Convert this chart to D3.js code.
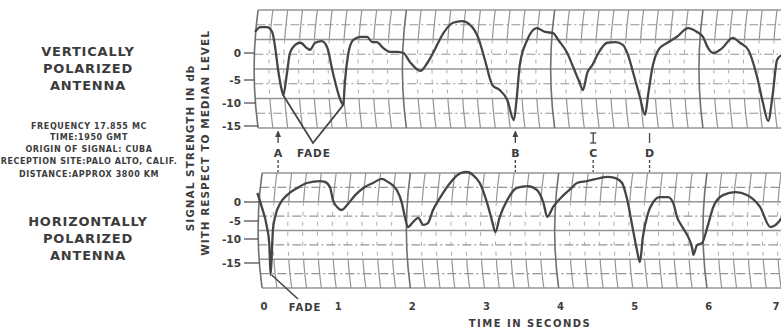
<!DOCTYPE html>
<html><head><meta charset="utf-8">
<script src="https://cdn.jsdelivr.net/npm/d3@7"></script>
<style>
body{margin:0;background:#fff;}
svg{display:block;}
text{font-family:"DejaVu Sans",sans-serif;font-weight:bold;fill:#3c3c3c;}
</style></head><body>
<svg id="c" width="781" height="331"></svg>
<script>
// ---------- data ----------
const timeTicks = [0,1,2,3,4,5,6,7];
const dbTicks = [0,-5,-10,-15];
// vertically polarized antenna: [time s, dB]
const verticalTime = [-0.12,-0.05,0.04,0.11,0.15,0.19,0.24,0.26,0.31,0.35,0.42,0.49,0.58,0.62,0.69,0.78,0.85,0.93,1.03,1.07,1.09,1.13,1.20,1.30,1.39,1.46,1.52,1.61,1.70,1.79,1.88,1.97,2.11,2.20,2.28,2.42,2.55,2.67,2.78,2.89,2.98,3.08,3.18,3.28,3.37,3.41,3.45,3.55,3.68,3.79,3.90,3.97,4.09,4.17,4.26,4.30,4.36,4.43,4.51,4.63,4.74,4.84,4.91,4.98,5.07,5.14,5.18,5.24,5.32,5.44,5.57,5.72,5.84,5.92,5.99,6.06,6.18,6.32,6.42,6.53,6.65,6.73,6.80,6.86,6.92,6.98];
const verticalDb = [3.9,4.8,4.8,3.9,1.1,-3.1,-7.2,-8.3,-3.7,0,1.5,1.9,0.9,0.6,1.9,2.2,1.1,-3.7,-9.3,-10.4,-5.7,-0.7,2.4,3.0,3.0,2.0,2.0,0.9,0.2,0.2,0,-1.7,-3.3,-1.9,0,3.7,5.6,5.9,5.2,2.8,-1.3,-6.1,-7.2,-9.3,-13.7,-8.7,-2.2,2.4,4.6,3.9,3.7,2.4,0,-2.6,-5.7,-7.2,-3.7,-2.2,0,1.9,2.0,1.5,-0.4,-3.7,-8.7,-12.6,-8.3,-2.6,0.6,1.9,3.0,4.6,3.9,3.0,0.9,0,0.9,2.8,1.9,0.6,-4.4,-10.0,-13.9,-8.3,-1.3,-0.4];
// horizontally polarized antenna: [time s, dB]
const horizontalTime = [-0.09,-0.03,0.04,0.07,0.08,0.09,0.11,0.12,0.15,0.22,0.31,0.45,0.58,0.76,0.82,0.89,0.93,1.00,1.05,1.12,1.23,1.34,1.47,1.59,1.67,1.79,1.86,1.90,1.94,2.01,2.08,2.15,2.21,2.28,2.38,2.51,2.65,2.74,2.82,2.91,3.01,3.08,3.12,3.18,3.28,3.41,3.56,3.68,3.77,3.82,3.90,4.04,4.16,4.22,4.36,4.53,4.63,4.74,4.83,4.90,4.97,5.03,5.07,5.11,5.18,5.25,5.34,5.45,5.52,5.57,5.65,5.72,5.78,5.79,5.84,5.91,5.98,6.06,6.19,6.36,6.52,6.69,6.83,6.94,6.98];
const horizontalDb = [2.4,-1.3,-6.7,-10.8,-14.4,-17.5,-11.3,-7.5,-3.9,-0.3,1.8,3.7,5.0,5.5,5.3,3.9,0.5,-1.6,-2.1,-0.8,1.8,3.7,5.0,6.1,5.3,3.2,-0.3,-3.9,-6.7,-5.3,-4.2,-6.1,-5.6,-2.1,1.3,5.0,7.6,7.9,7.1,5.0,-0.3,-5.3,-8.1,-3.9,0.5,3.7,4.2,3.2,-0.3,-3.9,-1.3,1.8,3.9,5.0,5.5,6.3,6.6,6.3,5.0,0.5,-6.7,-12.3,-14.8,-9.4,-2.9,0,1.3,1.3,-0.3,-3.9,-6.9,-9.4,-12.3,-13.3,-11.3,-10.8,-6.7,-1.3,1.8,2.6,1.8,-1.3,-6.7,-5.3,-4.2];
const markerLabels = ["A","B","C","D"];
const markerTimes = [0.19,3.39,4.44,5.20];
const fadeTopTimes = [0.26,1.07];   // the two fades marked "FADE" on the upper record
const fadeBottomTime = 0.09;        // fade marked on the lower record
const leftTitles = [["VERTICALLY","POLARIZED","ANTENNA"],["HORIZONTALLY","POLARIZED","ANTENNA"]];
const infoLines = ["FREQUENCY 17.855 MC","TIME:1950 GMT","ORIGIN OF SIGNAL: CUBA","RECEPTION SITE:PALO ALTO, CALIF.","DISTANCE:APPROX 3800 KM"];
const yTitle = ["SIGNAL STRENGTH IN db","WITH RESPECT TO MEDIAN LEVEL"];
const xTitle = "TIME IN SECONDS";

// ---------- drawing ----------
const svg = d3.select("#c");
const W = 781;
const x = d3.scaleLinear().domain([0,7]).range([264,783]);
const yTop = d3.scaleLinear().domain([-15,-10,-5,0]).range([126,103,80,53]);
const yBot = d3.scaleLinear().domain([-15,-10,-5,0]).range([263,239,221,202]);

const GRID = "#959595", INK = "#454545";

function panel(y0, y1, edgeShift, yScale){
  const g = svg.append("g");
  const h = y1 - y0, ym = (y0 + y1) / 2;
  const bow = y => edgeShift + 4 * Math.pow((y - ym) / (h / 2), 2);
  const xAt = (t, y) => x(t) + bow(y);
  const leftX = y => xAt(-0.1, y);
  const rows = 8, rh = h / rows;
  // horizontal lines
  d3.range(rows + 1).forEach(i => {
    const yy = y0 + i * rh;
    g.append("line").attr("x1", leftX(yy)).attr("x2", W + 5).attr("y1", yy).attr("y2", yy)
      .attr("stroke", GRID).attr("stroke-width", i % 2 === 0 ? 1.4 : 1.1)
      .attr("stroke-dasharray", i % 2 === 0 ? null : "9,3,2,3");
  });
  // vertical lines
  const line = d3.line().x(d => d[0]).y(d => d[1]);
  const ts = d3.range(-0.1, 7.5, 0.2);
  ts.forEach((t, k) => {
    const seam = k % 10 === 0;
    const seg = (ya, yb) => d3.range(ya, yb + 0.01, (yb - ya) / 6).map(yy => [xAt(t, yy), yy]);
    if (seam) {
      g.append("path").attr("d", line(seg(y0, y1))).attr("fill", "none")
        .attr("stroke", "#707070").attr("stroke-width", 1.6);
    } else {
      g.append("path").attr("d", line(seg(y0, y0 + 2 * rh))).attr("fill", "none")
        .attr("stroke", GRID).attr("stroke-width", 1.2);
      g.append("path").attr("d", line(seg(y1 - 2 * rh, y1))).attr("fill", "none")
        .attr("stroke", GRID).attr("stroke-width", 1.2);
      g.append("path").attr("d", line(seg(y0 + 2 * rh, y1 - 2 * rh))).attr("fill", "none")
        .attr("stroke", "#adadad").attr("stroke-width", 1).attr("stroke-dasharray", "4,6");
    }
  });
  // y ticks
  dbTicks.forEach(v => {
    const yy = yScale(v);
    g.append("line").attr("x1", 244).attr("x2", leftX(yy)).attr("y1", yy).attr("y2", yy)
      .attr("stroke", INK).attr("stroke-width", 1.2);
    g.append("text").attr("x", 241).attr("y", yy + 4).attr("text-anchor", "end")
      .attr("font-size", 10.5).text(v === 0 ? "0" : "-" + Math.abs(v));
  });
  return g;
}

panel(10, 128, -2.5, yTop);
panel(173, 288, 1.5, yBot);

const curve = (ts, vs, ys) => d3.line().x((d, i) => x(ts[i])).y(d => ys(d)).curve(d3.curveMonotoneX)(vs);
svg.append("path").attr("d", curve(verticalTime, verticalDb, yTop)).attr("fill", "none")
  .attr("stroke", INK).attr("stroke-width", 2.3).attr("stroke-linejoin", "round");
svg.append("path").attr("d", curve(horizontalTime, horizontalDb, yBot)).attr("fill", "none")
  .attr("stroke", INK).attr("stroke-width", 2.3).attr("stroke-linejoin", "round");

// FADE annotations
const vIdx = t => verticalTime.indexOf(t);
const apex = [313, 143];
svg.append("path").attr("d", d3.line()([
  [x(fadeTopTimes[0]), yTop(verticalDb[vIdx(fadeTopTimes[0])])], apex,
  [x(fadeTopTimes[1]), yTop(verticalDb[vIdx(fadeTopTimes[1])])]]))
  .attr("fill", "none").attr("stroke", INK).attr("stroke-width", 1.8);
svg.append("text").attr("x", 314).attr("y", 157).attr("text-anchor", "middle")
  .attr("font-size", 10.5).attr("letter-spacing", 1).text("FADE");
const hIdx = horizontalTime.indexOf(fadeBottomTime);
svg.append("path").attr("d", d3.line()([[x(fadeBottomTime) + 1, yBot(horizontalDb[hIdx])], [298, 299]]))
  .attr("fill", "none").attr("stroke", INK).attr("stroke-width", 1.6);
svg.append("text").attr("x", 305).attr("y", 311).attr("text-anchor", "middle")
  .attr("font-size", 10).attr("letter-spacing", 1).text("FADE");

// event markers
markerLabels.forEach((lab, i) => {
  const xx = x(markerTimes[i]);
  svg.append("line").attr("x1", xx).attr("x2", xx).attr("y1", 133).attr("y2", 143)
    .attr("stroke", INK).attr("stroke-width", 1.3);
  if (lab === "A" || lab === "B") {
    svg.append("path").attr("d", `M${xx-2.5},${137} L${xx},${131} L${xx+2.5},${137}`)
      .attr("fill", INK).attr("stroke", INK).attr("stroke-width", 0.8);
  } else if (lab === "C") {
    svg.append("line").attr("x1", xx - 3).attr("x2", xx + 3).attr("y1", 133).attr("y2", 133)
      .attr("stroke", INK).attr("stroke-width", 1.3);
    svg.append("line").attr("x1", xx - 3).attr("x2", xx + 3).attr("y1", 143).attr("y2", 143)
      .attr("stroke", INK).attr("stroke-width", 1.3);
  }
  svg.append("text").attr("x", xx).attr("y", 157).attr("text-anchor", "middle")
    .attr("font-size", 11).text(lab);
  svg.append("line").attr("x1", xx).attr("x2", xx).attr("y1", 160).attr("y2", 172)
    .attr("stroke", INK).attr("stroke-width", 1.3).attr("stroke-dasharray", "3,2");
});

// x axis labels
timeTicks.forEach(t => {
  svg.append("text").attr("x", Math.min(x(t), 776)).attr("y", 310).attr("text-anchor", "middle")
    .attr("font-size", 10).text(t);
});
svg.append("text").attr("x", 530).attr("y", 327).attr("text-anchor", "middle")
  .attr("font-size", 10).attr("letter-spacing", 1.5).text(xTitle);

// y title
yTitle.forEach((s, i) => {
  svg.append("text").attr("transform", `translate(${194 + i * 15},${i === 0 ? 148 : 143}) rotate(-90)`)
    .attr("text-anchor", "middle").attr("font-size", 10.5).attr("letter-spacing", 1).text(s);
});

// left titles
const titleY = [[52, 69, 86], [222, 239, 256]];
leftTitles.forEach((lines, k) => {
  lines.forEach((s, j) => {
    svg.append("text").attr("x", 88).attr("y", titleY[k][j] + 4).attr("text-anchor", "middle")
      .attr("font-size", 13).attr("letter-spacing", 0.8).text(s);
  });
});
const infoY = [126, 137, 149, 161, 174];
infoLines.forEach((s, j) => {
  svg.append("text").attr("x", 89).attr("y", infoY[j] + 3).attr("text-anchor", "middle")
    .attr("font-size", 8).attr("letter-spacing", 0.6).text(s);
});
</script>
</body></html>
